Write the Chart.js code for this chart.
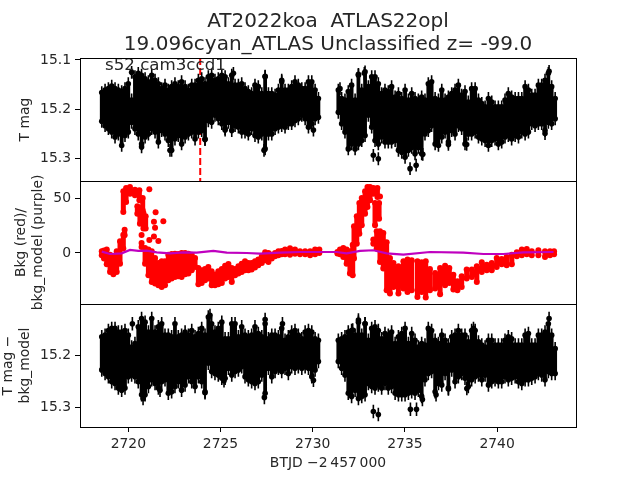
<!DOCTYPE html>
<html>
<head>
<meta charset="utf-8">
<title>AT2022koa</title>
<script src="https://cdn.jsdelivr.net/npm/chart.js@4/dist/chart.umd.min.js"></script>
<style>
    html, body { margin: 0; padding: 0; background: #fff; }
    #wrap { position: relative; width: 640px; height: 480px; }
    canvas { position: absolute; left: 0; top: 0; }
</style>
</head>
<body>
<div id="wrap">
    <canvas id="panelMag" width="640" height="480"></canvas>
    <canvas id="panelBkg" width="640" height="480"></canvas>
    <canvas id="panelCorr" width="640" height="480"></canvas>
</div>
<script>
// ------------- values -----------------------------------
const titleLines = ['AT2022koa  ATLAS22opl', '19.096cyan_ATLAS Unclassified z= -99.0'];
const sectorLabel = 's52 cam3ccd1';

const dayTicks = [2720, 2725, 2730, 2735, 2740];
const magTicks = [15.1, 15.2, 15.3];
const bkgTicks = [50, 0];
const corrTicks = [15.2, 15.3];

const eventDay = 2723.9;

// times of the error bar columns (both black panels)
const obsDays = [
    2718.56, 2718.74, 2718.92, 2719.10, 2719.28, 2719.46, 2719.64, 2719.82, 2720.00, 2720.18,
    2720.36, 2720.54, 2720.72, 2720.91, 2721.09, 2721.27, 2721.45, 2721.63, 2721.81, 2721.99,
    2722.17, 2722.35, 2722.53, 2722.71, 2722.89, 2723.08, 2723.26, 2723.44, 2723.62, 2723.80,
    2723.98, 2724.16, 2724.34, 2724.52, 2724.70, 2724.88, 2725.07, 2725.25, 2725.43, 2725.61,
    2725.79, 2725.97, 2726.15, 2726.33, 2726.51, 2726.69, 2726.87, 2727.05, 2727.24, 2727.42,
    2727.60, 2727.78, 2727.96, 2728.14, 2728.32, 2728.50, 2728.68, 2728.86, 2729.04, 2729.22,
    2729.41, 2729.59, 2729.77, 2729.95, 2730.13, 2730.31,
    2731.39, 2731.57, 2731.75, 2731.93, 2732.11, 2732.30, 2732.48, 2732.66, 2732.84, 2733.02,
    2733.20, 2733.38, 2733.56, 2733.74, 2733.92, 2734.10, 2734.28, 2734.47, 2734.65, 2734.83,
    2735.01, 2735.19, 2735.37, 2735.55, 2735.73, 2735.91, 2736.09, 2736.27, 2736.45, 2736.64,
    2736.82, 2737.00, 2737.18, 2737.36, 2737.54, 2737.72, 2737.90, 2738.08, 2738.26, 2738.44,
    2738.62, 2738.81, 2738.99, 2739.17, 2739.35, 2739.53, 2739.71, 2739.89, 2740.07, 2740.25,
    2740.43, 2740.61, 2740.79, 2740.98, 2741.16, 2741.34, 2741.52, 2741.70, 2741.88, 2742.06,
    2742.24, 2742.42, 2742.60, 2742.78, 2742.96, 2743.15
];

// T mag, brightest and faintest error bar end per column
const magBright = [
    15.153, 15.148, 15.145, 15.140, 15.145, 15.148, 15.151, 15.145, 15.135, 15.168,
    15.121, 15.114, 15.118, 15.125, 15.131, 15.118, 15.128, 15.135, 15.145, 15.138,
    15.148, 15.141, 15.135, 15.141, 15.131, 15.141, 15.148, 15.138, 15.138, 15.128,
    15.125, 15.135, 15.121, 15.118, 15.128, 15.125, 15.118, 15.121, 15.135, 15.118,
    15.138, 15.138, 15.135, 15.145, 15.151, 15.155, 15.138, 15.141, 15.155, 15.121,
    15.155, 15.155, 15.158, 15.148, 15.131, 15.148, 15.148, 15.141, 15.131, 15.138,
    15.145, 15.145, 15.131, 15.131, 15.148, 15.165,
    15.148, 15.165, 15.168, 15.151, 15.138, 15.168, 15.118, 15.148, 15.111, 15.141,
    15.121, 15.121, 15.135, 15.155, 15.148, 15.151, 15.141, 15.162, 15.155, 15.165,
    15.148, 15.168, 15.155, 15.165, 15.168, 15.162, 15.168, 15.135, 15.131, 15.165,
    15.168, 15.148, 15.168, 15.162, 15.155, 15.148, 15.138, 15.158, 15.151, 15.172,
    15.145, 15.145, 15.168, 15.175, 15.182, 15.165, 15.172, 15.182, 15.182, 15.182,
    15.168, 15.155, 15.162, 15.165, 15.165, 15.165, 15.141, 15.148, 15.158, 15.158,
    15.138, 15.138, 15.128, 15.114, 15.141, 15.165
];
const magFaint = [
    15.237, 15.246, 15.252, 15.259, 15.269, 15.263, 15.286, 15.266, 15.259, 15.239,
    15.252, 15.263, 15.283, 15.269, 15.263, 15.252, 15.259, 15.279, 15.256, 15.263,
    15.276, 15.296, 15.273, 15.266, 15.283, 15.269, 15.263, 15.259, 15.273, 15.259,
    15.256, 15.273, 15.236, 15.239, 15.225, 15.232, 15.242, 15.252, 15.239, 15.256,
    15.246, 15.249, 15.259, 15.259, 15.263, 15.252, 15.266, 15.269, 15.263, 15.293,
    15.263, 15.263, 15.252, 15.249, 15.246, 15.249, 15.242, 15.242, 15.236, 15.232,
    15.225, 15.232, 15.249, 15.242, 15.232, 15.229,
    15.219, 15.242, 15.259, 15.293, 15.283, 15.293, 15.283, 15.276, 15.266, 15.225,
    15.249, 15.276, 15.283, 15.269, 15.279, 15.279, 15.279, 15.276, 15.296, 15.300,
    15.310, 15.296, 15.290, 15.303, 15.290, 15.303, 15.263, 15.256, 15.246, 15.283,
    15.286, 15.269, 15.259, 15.279, 15.256, 15.263, 15.246, 15.252, 15.283, 15.263,
    15.263, 15.259, 15.269, 15.273, 15.276, 15.286, 15.276, 15.273, 15.283, 15.279,
    15.269, 15.266, 15.273, 15.266, 15.269, 15.259, 15.263, 15.259, 15.242, 15.246,
    15.242, 15.242, 15.256, 15.239, 15.242, 15.232
];
// separate points standing out of the T mag band
const magLoneDays = [2720.18, 2725.70, 2727.42, 2728.32, 2727.36, 2730.04, 2725.25, 2724.16, 2722.26, 2720.72,
    2733.29, 2733.56, 2735.28, 2735.61, 2742.82, 2731.48, 2742.60, 2737.36, 2738.35, 2735.97, 2732.48, 2732.80];
const magLoneValues = [15.125, 15.127, 15.133, 15.141, 15.283, 15.242, 15.242, 15.261, 15.283, 15.276,
    15.293, 15.300, 15.320, 15.313, 15.123, 15.158, 15.249, 15.271, 15.271, 15.291, 15.129, 15.127];
const magError = 0.013;

// T mag - bkg_model
const corrBright = [
    15.151, 15.148, 15.139, 15.135, 15.135, 15.142, 15.142, 15.139, 15.148, 15.171,
    15.164, 15.132, 15.116, 15.123, 15.142, 15.116, 15.142, 15.132, 15.126, 15.148,
    15.148, 15.151, 15.126, 15.151, 15.148, 15.142, 15.148, 15.139, 15.151, 15.145,
    15.135, 15.148, 15.113, 15.126, 15.142, 15.135, 15.123, 15.155, 15.155, 15.126,
    15.126, 15.151, 15.132, 15.148, 15.151, 15.148, 15.132, 15.145, 15.151, 15.126,
    15.155, 15.148, 15.148, 15.151, 15.135, 15.158, 15.151, 15.142, 15.139, 15.148,
    15.155, 15.142, 15.139, 15.142, 15.155, 15.158,
    15.158, 15.155, 15.151, 15.142, 15.139, 15.148, 15.123, 15.148, 15.126, 15.158,
    15.135, 15.132, 15.139, 15.155, 15.145, 15.148, 15.142, 15.164, 15.151, 15.145,
    15.135, 15.164, 15.145, 15.158, 15.171, 15.164, 15.167, 15.135, 15.139, 15.158,
    15.164, 15.148, 15.158, 15.167, 15.151, 15.148, 15.139, 15.148, 15.148, 15.161,
    15.139, 15.139, 15.161, 15.167, 15.171, 15.158, 15.158, 15.167, 15.167, 15.167,
    15.158, 15.151, 15.155, 15.167, 15.167, 15.167, 15.148, 15.145, 15.167, 15.167,
    15.148, 15.148, 15.142, 15.126, 15.148, 15.174
];
const corrFaint = [
    15.241, 15.248, 15.254, 15.264, 15.267, 15.276, 15.280, 15.276, 15.254, 15.251,
    15.254, 15.264, 15.289, 15.289, 15.273, 15.260, 15.267, 15.276, 15.264, 15.260,
    15.286, 15.283, 15.273, 15.264, 15.280, 15.270, 15.254, 15.264, 15.273, 15.254,
    15.264, 15.283, 15.228, 15.244, 15.248, 15.251, 15.257, 15.257, 15.238, 15.251,
    15.244, 15.241, 15.235, 15.254, 15.260, 15.264, 15.267, 15.264, 15.251, 15.286,
    15.238, 15.254, 15.244, 15.238, 15.244, 15.238, 15.248, 15.235, 15.238, 15.235,
    15.238, 15.235, 15.238, 15.254, 15.241, 15.225,
    15.225, 15.238, 15.251, 15.286, 15.292, 15.280, 15.296, 15.292, 15.289, 15.267,
    15.273, 15.276, 15.270, 15.276, 15.267, 15.276, 15.273, 15.286, 15.289, 15.289,
    15.289, 15.286, 15.283, 15.286, 15.280, 15.292, 15.260, 15.248, 15.244, 15.283,
    15.267, 15.270, 15.248, 15.276, 15.241, 15.264, 15.254, 15.248, 15.257, 15.273,
    15.260, 15.254, 15.251, 15.260, 15.251, 15.270, 15.264, 15.260, 15.264, 15.264,
    15.254, 15.260, 15.257, 15.254, 15.264, 15.267, 15.260, 15.260, 15.257, 15.254,
    15.248, 15.251, 15.260, 15.244, 15.248, 15.248
];
const corrLoneDays = [2720.22, 2727.38, 2727.42, 2728.36, 2724.43, 2724.16, 2721.72, 2720.80, 2730.04, 2725.19,
    2732.48, 2732.84, 2733.29, 2733.56, 2735.30, 2735.63, 2742.82, 2732.17, 2736.69, 2737.36, 2738.36, 2738.72, 2735.95];
const corrLoneValues = [15.139, 15.281, 15.131, 15.139, 15.123, 15.272, 15.267, 15.283, 15.248, 15.249,
    15.132, 15.139, 15.308, 15.314, 15.304, 15.304, 15.129, 15.151, 15.276, 15.265, 15.264, 15.148, 15.285];

// background, red band: top and bottom of the cloud per column
const bkgDays = [
    2718.56, 2718.68, 2718.83, 2719.01, 2719.19, 2719.37, 2719.55, 2719.73, 2719.80,
    2719.73, 2719.88, 2720.09, 2720.36, 2720.60, 2720.78, 2720.49, 2720.63, 2720.82, 2720.94,
    2720.72, 2720.91, 2721.09, 2721.27, 2721.45, 2721.63, 2721.81, 2721.99, 2722.17, 2722.35,
    2722.53, 2722.71, 2722.89, 2723.08, 2723.26, 2723.44, 2723.62, 2723.80, 2723.98, 2724.16,
    2724.34, 2724.52, 2724.70, 2724.88, 2725.07, 2725.25, 2725.43, 2725.61, 2725.79, 2725.97,
    2726.15, 2726.33, 2726.51, 2726.69, 2726.87, 2727.05, 2727.24, 2727.42, 2727.60, 2727.78,
    2727.96, 2728.14, 2728.32, 2728.50, 2728.77, 2729.04, 2729.31, 2729.59, 2729.86, 2730.13, 2730.36,
    2731.34, 2731.48, 2731.66, 2731.84, 2732.02, 2732.17, 2732.24, 2732.39, 2732.53, 2732.66,
    2732.84, 2732.97, 2733.11, 2733.29, 2733.51, 2733.38, 2733.60, 2733.29, 2733.47, 2733.65,
    2733.83, 2734.01, 2734.19, 2734.38, 2734.65, 2734.92, 2735.14, 2735.37, 2735.68, 2735.91,
    2736.13, 2736.36, 2736.64, 2736.91, 2737.18, 2737.41, 2737.63, 2737.85, 2738.08, 2738.35,
    2738.63, 2738.90, 2739.17, 2739.44, 2739.71, 2739.98, 2740.25, 2740.52, 2740.80, 2741.07,
    2741.34, 2741.61, 2741.88, 2742.24, 2742.60, 2742.87, 2743.09
];
const bkgTop = [
    1.6, 2.2, 3.1, -1.5, -3.0, 1.6, 10.6, 16.7, 21.2,
    56.1, 59.1, 60.0, 57.6, 57.0, 50.0, 42.5, 40.9, 36.4, 33.4,
    9.1, 4.6, 3.1, 1.6, -4.5, -9.0, -7.5, -7.5, -1.5, -0.9,
    -0.6, -0.9, 0.0, 0.0, -0.6, -1.5, -4.5, -13.6, -15.7, -14.5,
    -12.7, -16.6, -19.7, -16.6, -14.5, -11.5, -10.0, -13.6, -14.5, -12.1,
    -9.7, -7.5, -9.0, -9.0, -7.5, -6.0, -3.0, 0.6, 0.0, -1.5,
    0.0, 1.6, 1.9, 3.1, 4.3, 3.1, 1.6, 1.6, 1.6, 3.1, 3.1,
    1.0, 3.1, 4.6, 3.1, 1.6, 7.6, 24.3, 33.4, 45.5, 50.0,
    56.1, 60.0, 60.0, 59.1, 59.1, 45.5, 45.5, 12.2, 19.7, 19.7,
    18.2, 9.7, -4.5, -9.0, -12.1, -7.5, -6.0, -6.6, -7.5, -8.4,
    -7.5, -14.5, -18.1, -13.6, -11.5, -13.6, -19.7, -25.7, -21.2, -15.1,
    -15.1, -12.1, -8.4, -10.6, -9.0, -4.5, -5.4, -3.6, -1.5, 0.6,
    3.1, 3.7, 1.6, 2.5, 1.6, 1.6, 1.6
];
const bkgBottom = [
    -2.1, -5.1, -10.3, -17.2, -19.4, -17.2, -9.7, 4.0, 16.1,
    37.3, 46.4, 54.0, 52.5, 47.9, 38.8, 35.8, 26.7, 22.2, 22.2,
    5.5, -9.7, -20.3, -26.3, -27.8, -29.4, -30.9, -29.4, -24.8, -23.3,
    -21.8, -21.2, -21.8, -19.4, -18.7, -15.7, -12.7, -28.4, -27.2, -24.8,
    -23.3, -29.4, -29.4, -28.4, -27.2, -23.3, -21.8, -26.3, -20.3, -18.7,
    -17.2, -15.7, -15.7, -15.1, -13.3, -11.2, -9.0, -6.6, -8.1, -5.1,
    -3.0, -2.1, -1.2, -1.2, -1.5, -0.6, -1.2, -1.2, -2.1, -1.2, 0.0,
    -0.5, -1.2, -3.6, -9.7, -18.7, -20.3, -5.1, 8.5, 17.6, 25.2,
    35.8, 41.9, 47.9, 54.0, 50.9, 25.2, 31.2, 8.5, 4.0, -8.1,
    -14.2, -33.9, -36.9, -30.9, -36.9, -32.4, -35.4, -33.9, -40.0, -35.4,
    -40.6, -33.9, -32.4, -37.5, -29.4, -27.2, -33.3, -33.9, -30.9, -23.3,
    -21.8, -26.3, -17.2, -15.7, -15.7, -12.7, -10.3, -11.2, -10.3, -3.0,
    -2.1, -1.2, -2.1, -2.1, -3.6, -2.1, -1.2
];
const bkgLoneDays = [2721.14, 2721.48, 2721.90, 2721.39, 2721.45, 2721.39, 2721.63, 2721.14, 2720.72, 2733.65];
const bkgLoneValues = [57.9, 37.0, 28.8, 28.5, 23.0, 14.9, 11.0, 11.9, 16.4, 51.3];

// background model, purple line
const modelDays = [2718.56, 2719.01, 2719.64, 2720.09, 2720.54, 2721.0, 2721.54, 2722.26, 2722.99, 2723.71,
    2724.61, 2725.34, 2726.42, 2727.14, 2728.23, 2729.31, 2730.4, 2731.3, 2731.84, 2732.57,
    2733.29, 2734.01, 2734.92, 2736.36, 2738.17, 2739.26, 2740.34, 2741.43, 2743.06];
const modelValues = [1.2, -0.9, -0.3, 2.8, 1.9, 2.2, 0.6, -0.3, 0.6, 0.3,
    1.9, 0.3, 0.0, -0.6, 0.3, 0.9, 0.9, 0.9, -0.3, 1.9,
    2.5, -0.3, -1.5, 0.9, 0.3, -0.9, -0.9, 0.6, 0.9];

// --------------- helpers -------------------

// pairs two ends into a segment, null between the segments so the line breaks
function segments(days, ends1, ends2) {
    let pts = [];
    days.forEach((d, i) => {
        pts.push({ x: d, y: ends1[i] }, { x: d, y: ends2[i] }, { x: d, y: null });
    });
    return pts;
}

function dots(days, values) {
    return days.map((d, i) => ({ x: d, y: values[i] }));
}

function lineSet(data, color, width) {
    return { data: data, showLine: true, spanGaps: false, borderColor: color, borderWidth: width, pointRadius: 0 };
}

function dotSet(data, color, radius) {
    return { data: data, showLine: false, pointRadius: radius, pointBackgroundColor: color, pointBorderWidth: 0 };
}

// black error bars: thin whiskers at the tips, dots inside them, solid body between the dots
function errorBarSets(bright, faint, loneDays, loneValues) {
    let brightDots = bright.map((v) => v + magError);
    let faintDots = faint.map((v) => v - magError);
    return [
        lineSet(segments(obsDays, bright, faint), '#000', 1.6),
        lineSet(segments(obsDays, brightDots, faintDots), '#000', 3.8),
        dotSet(dots(obsDays, brightDots), '#000', 2.8),
        dotSet(dots(obsDays, faintDots), '#000', 2.8),
        lineSet(segments(loneDays, loneValues.map((v) => v - magError), loneValues.map((v) => v + magError)), '#000', 1.6),
        dotSet(dots(loneDays, loneValues), '#000', 2.8)
    ];
}

const framePlugin = {
    id: 'frame',
    afterDraw(chart) {
        let a = chart.chartArea;
        let c = chart.ctx;
        c.save();
        c.strokeStyle = '#000';
        c.lineWidth = 1;
        c.strokeRect(a.left + 0.5, a.top + 0.5, a.right - a.left, a.bottom - a.top);
        c.restore();
    }
};

const sectorPlugin = {
    id: 'sector',
    afterDatasetsDraw(chart) {
        let c = chart.ctx;
        c.save();
        c.font = '16.67px "DejaVu Sans"';
        c.fillStyle = '#262626';
        c.textBaseline = 'alphabetic';
        c.fillText(sectorLabel, 105, 70);
        c.restore();
    }
};

function yAxis(range, ticks, reverse, decimals, labelLines, labelPad) {
    return {
        type: 'linear',
        min: range[0],
        max: range[1],
        reverse: reverse,
        afterBuildTicks: (axis) => { axis.ticks = ticks.map((v) => ({ value: v })); },
        afterFit: (axis) => { axis.width = 80; },
        ticks: {
            color: '#262626',
            padding: 4,
            autoSkip: false,
            font: { family: 'DejaVu Sans', size: 13.9 },
            callback: (v) => v.toFixed(decimals)
        },
        grid: { drawOnChartArea: false, tickLength: 5, tickColor: '#000', tickWidth: 1 },
        border: { display: false },
        title: {
            display: true,
            text: labelLines,
            color: '#262626',
            padding: { top: labelPad, bottom: 0 },
            font: { family: 'DejaVu Sans', size: 13.9, lineHeight: 1.2 }
        }
    };
}

function xAxis(showIt) {
    return {
        type: 'linear',
        display: showIt,
        min: 2717.38,
        max: 2744.28,
        afterBuildTicks: (axis) => { axis.ticks = dayTicks.map((v) => ({ value: v })); },
        afterFit: (axis) => { axis.height = showIt ? 53 : 0; },
        ticks: {
            color: '#262626',
            padding: 4,
            autoSkip: false,
            maxRotation: 0,
            font: { family: 'DejaVu Sans', size: 13.9 },
            callback: (v) => String(v)
        },
        grid: { drawOnChartArea: false, tickLength: 5, tickColor: '#000', tickWidth: 1 },
        border: { display: false },
        title: {
            display: true,
            text: 'BTJD \u22122\u2009457\u2009000',
            color: '#262626',
            padding: { top: 0, bottom: 8 },
            font: { family: 'DejaVu Sans', size: 13.9, lineHeight: 1.2 }
        }
    };
}

function panel(id, datasets, y, padding, extra) {
    return new Chart(document.getElementById(id), {
        type: 'scatter',
        data: { datasets: datasets },
        options: {
            responsive: false,
            animation: false,
            layout: { padding: padding },
            plugins: Object.assign({ legend: { display: false }, tooltip: { enabled: false } }, extra.options),
            scales: { x: xAxis(extra.showX), y: y }
        },
        plugins: extra.plugins
    });
}

// ------------------ T mag panel ------------------
panel('panelMag',
    errorBarSets(magBright, magFaint, magLoneDays, magLoneValues).concat([
        Object.assign(lineSet([{ x: eventDay, y: 15.096 }, { x: eventDay, y: 15.345 }], '#ff0000', 2), { borderDash: [7, 3] })
    ]),
    yAxis([15.096, 15.345], magTicks, true, 1, 'T mag', 17),
    { top: 0, left: 0, right: 64, bottom: 299 },
    {
        showX: false,
        plugins: [framePlugin, sectorPlugin],
        options: {
            title: {
                display: true,
                text: titleLines,
                fullSize: false,
                color: '#262626',
                padding: { top: 10.5, bottom: 1.5 },
                font: { family: 'DejaVu Sans', size: 20, weight: 'normal', lineHeight: 1.15 }
            }
        }
    });

// ------------------ background panel --------------
panel('panelBkg',
    [
        lineSet(dots(modelDays, modelValues), '#bf00bf', 2.2),
        lineSet(segments(bkgDays, bkgTop, bkgBottom), '#ff0000', 5),
        dotSet(dots(bkgDays, bkgTop), '#ff0000', 3),
        dotSet(dots(bkgDays, bkgBottom), '#ff0000', 3),
        dotSet(dots(bkgLoneDays, bkgLoneValues), '#ff0000', 3)
    ],
    yAxis([-46.4, 65.5], bkgTicks, false, 0, ['Bkg (red)/', 'bkg_model (purple)'], 13),
    { top: 181, left: 0, right: 64, bottom: 176 },
    { showX: false, plugins: [framePlugin], options: {} });

// ------------------ corrected mag panel ------------
panel('panelCorr',
    errorBarSets(corrBright, corrFaint, corrLoneDays, corrLoneValues),
    yAxis([15.101, 15.338], corrTicks, true, 1, ['T mag \u2212', 'bkg_model'], 0),
    { top: 304, left: 0, right: 64, bottom: 0 },
    { showX: true, plugins: [framePlugin], options: {} });
</script>
</body>
</html>
